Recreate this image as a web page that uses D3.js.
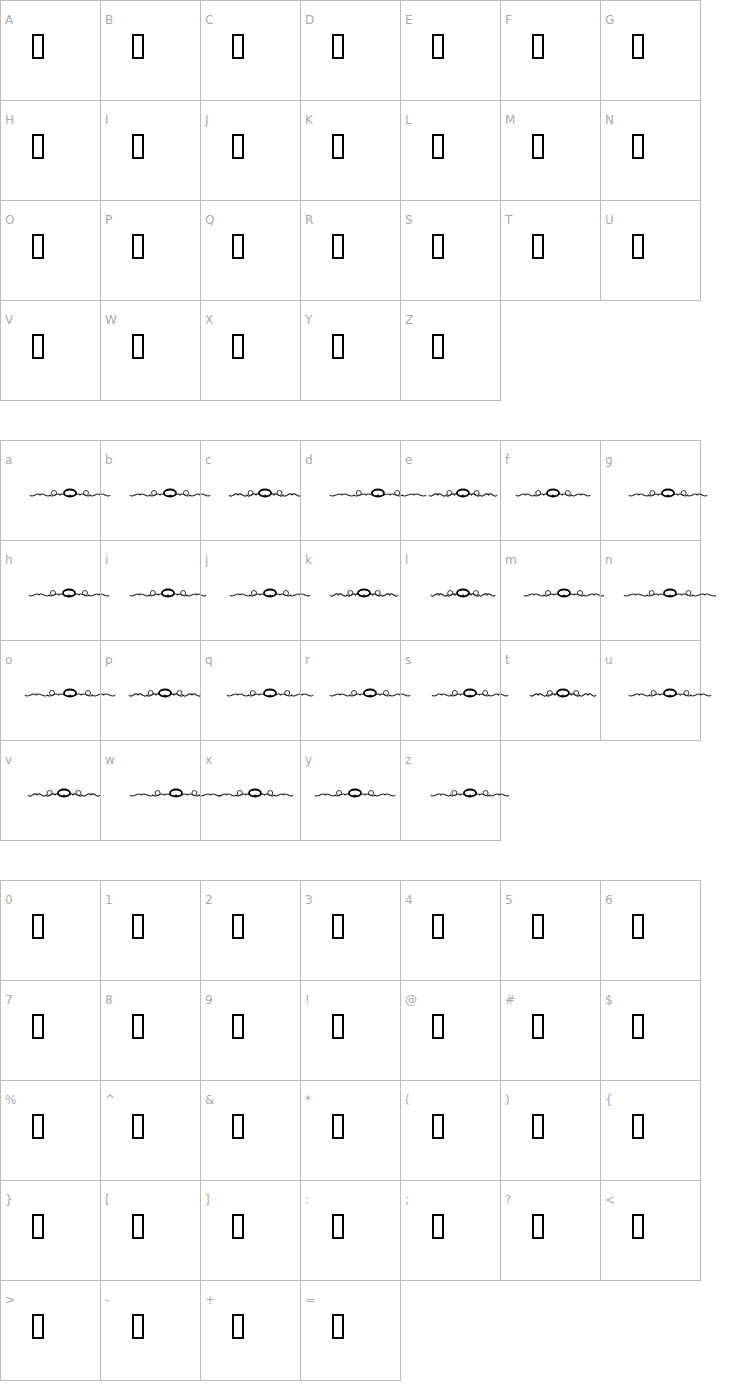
<!DOCTYPE html>
<html><head><meta charset="utf-8">
<script src="https://cdn.jsdelivr.net/npm/d3@7"></script>
<style>body{margin:0;background:#fff}</style></head>
<body><svg id="c" width="740" height="1400"></svg>
<script>
const upper = "ABCDEFGHIJKLMNOPQRSTUVWXYZ".split("");
const lower = "abcdefghijklmnopqrstuvwxyz".split("");
const symbols = ["0","1","2","3","4","5","6","7","8","9","!","@","#","$","%","^","&","*","(",")","{","}","[","]",":",";","?","<",">","-","+","="];
// ornament half-widths (px) estimated per lowercase glyph
const ornW = [40,40,36,48,34,37,39,40,38,40,34,32,40,46,45,36,43,40,38,33,41,36,46,38,40,39];
const ornX = [70,70,65,78,63,53,68,69,68,70,64,63,64,70,70,65,70,70,70,63,70,64,76,55,55,70];

const svg = d3.select("#c");
const sections = [{items:upper, top:0, type:"box"},{items:lower, top:440, type:"orn"},{items:symbols, top:880, type:"box"}];
const col = d3.scaleLinear().domain([0,7]).range([0,700]);

sections.forEach(sec=>{
  const g = svg.append("g").attr("transform",`translate(0,${sec.top})`);
  const cells = g.selectAll("g.cell").data(sec.items).join("g")
    .attr("transform",(d,i)=>`translate(${col(i%7)},${Math.floor(i/7)*100})`);
  cells.append("rect").attr("x",0.5).attr("y",0.5).attr("width",100).attr("height",100)
    .attr("fill","none").attr("stroke","#bbb").attr("stroke-width",1);
  cells.append("text").attr("x",5).attr("y",24).text(d=>d)
    .attr("font-family","DejaVu Sans, sans-serif").attr("font-size",12).attr("fill","#aaa");
  if(sec.type==="box"){
    cells.append("rect").attr("x",33).attr("y",35).attr("width",10).attr("height",23)
      .attr("fill","none").attr("stroke","#000").attr("stroke-width",2);
  } else {
    cells.each(function(d,i){
      const c = d3.select(this), cx = ornX[i], w = ornW[i], y = 55;
      const p = d3.path();
      p.moveTo(cx-w,y);
      const n = 8;
      for(let k=0;k<n;k++){
        const x0 = cx-w + k*2*w/n, x1 = x0 + 2*w/n;
        p.bezierCurveTo(x0+w/n*0.5, y-(k%2?4:-4), x1-w/n*0.5, y+(k%2?4:-4), x1, y);
      }
      c.append("path").attr("d",p.toString()).attr("fill","none").attr("stroke","#222").attr("stroke-width",1.1);
      c.append("ellipse").attr("cx",cx).attr("cy",y-2).attr("rx",6).attr("ry",3.5)
        .attr("fill","none").attr("stroke","#000").attr("stroke-width",1.8);
      c.append("circle").attr("cx",cx-w*0.4).attr("cy",y-2).attr("r",2.5).attr("fill","none").attr("stroke","#333");
      c.append("circle").attr("cx",cx+w*0.4).attr("cy",y-2).attr("r",2.5).attr("fill","none").attr("stroke","#333");
    });
  }
});
</script></body></html>
